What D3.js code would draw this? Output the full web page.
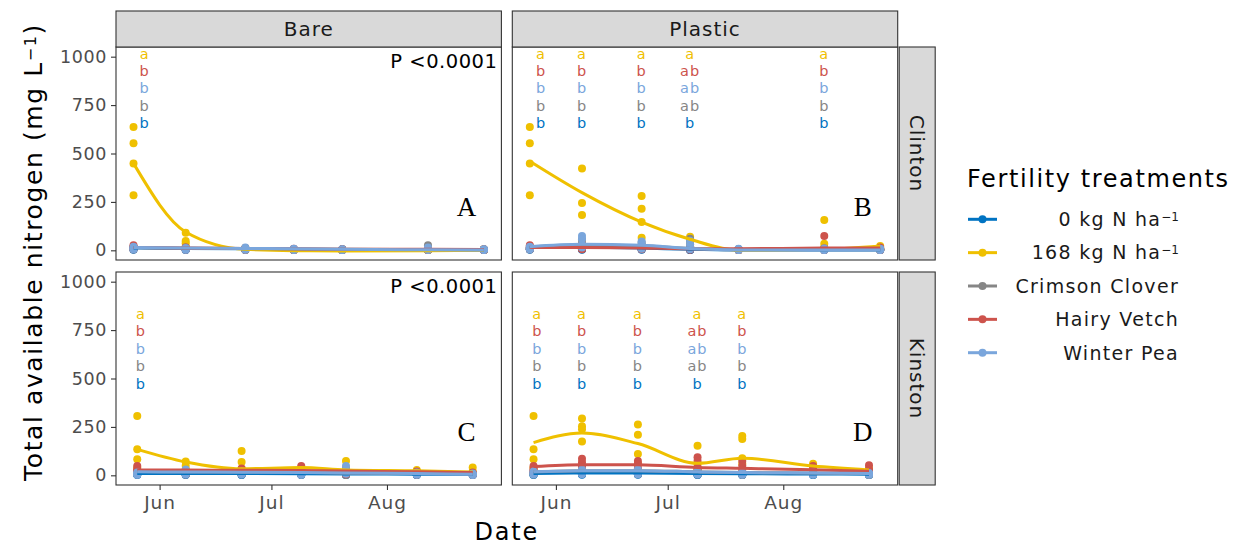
<!DOCTYPE html>
<html>
<head>
<meta charset="utf-8">
<script src="https://cdn.jsdelivr.net/npm/d3@7.9.0/dist/d3.min.js"></script>
<style>
  body { margin: 0; background: #fff; }
  text { font-family: "DejaVu Sans", sans-serif; }
</style>
</head>
<body>
<script>
// treatments, in legend order
const treatments = ["0 kg N ha", "168 kg N ha", "Crimson Clover", "Hairy Vetch", "Winter Pea"];
const supers = ["−1", "−1", "", "", ""];
const colors = ["#0073C2", "#EFC000", "#868686", "#CD534C", "#7AA6DC"];
const covers = ["Bare", "Plastic"];
const sites = ["Clinton", "Kinston"];
const tags = [["A", "B"], ["C", "D"]];
const yTicks = [0, 250, 500, 750, 1000];
const xTicks = ["2019-06-01", "2019-07-01", "2019-08-01"];

const clintonDates = ["2019-05-25", "2019-06-08", "2019-06-24", "2019-07-07", "2019-07-20", "2019-08-12", "2019-08-27"];
const kinstonDates = ["2019-05-26", "2019-06-08", "2019-06-23", "2019-07-09", "2019-07-21", "2019-08-09", "2019-08-24"];

// observations: one row per treatment, one cell per date, 4 reps each
const obsClintonBare = [
  [[12,8,5,3],[10,6,4,2],[8,5,3,2],[6,4,2,1],[5,3,2,1],[6,4,2,1],[4,3,2,1]],
  [[637,553,449,284],[91,48,36,18],[12,8,5,3],[6,4,2,1],[4,3,2,1],[8,4,2,1],[5,3,2,1]],
  [[20,14,10,6],[14,10,6,4],[10,7,5,3],[6,4,3,2],[5,3,2,1],[26,10,5,3],[5,3,2,1]],
  [[26,16,10,6],[15,10,6,4],[12,8,5,3],[8,5,3,2],[6,4,2,1],[8,5,3,2],[5,3,2,1]],
  [[18,12,8,5],[12,8,5,3],[14,9,6,3],[8,5,3,2],[6,4,2,1],[14,8,4,2],[6,4,2,1]]
];
const obsClintonPlastic = [
  [[12,8,5,3],[14,8,5,3],[12,8,5,3],[4,3,2,1],[4,3,2,1],[4,3,2,1],[4,3,2,1]],
  [[637,553,449,284],[422,244,182,50],[281,215,146,65],[70,55,30,20],[5,3,2,1],[157,34,15,5],[22,10,5,3]],
  [[20,14,10,6],[55,30,15,8],[40,25,15,8],[60,43,20,10],[5,3,2,1],[10,5,3,2],[6,4,2,1]],
  [[26,16,10,6],[30,20,10,5],[25,15,10,5],[20,10,5,3],[5,3,2,1],[74,10,5,2],[15,8,4,2]],
  [[18,12,8,5],[74,57,30,15],[45,30,15,8],[50,30,15,5],[8,5,3,2],[10,6,3,2],[8,5,3,2]]
];
const obsKinstonBare = [
  [[10,6,4,2],[10,6,4,2],[8,5,3,2],[8,5,3,2],[6,4,2,1],[6,4,2,1],[6,4,2,1]],
  [[306,134,83,40],[72,50,30,20],[126,69,34,15],[40,30,20,10],[74,40,25,10],[28,20,12,6],[40,20,12,6]],
  [[20,12,8,4],[20,12,8,4],[25,15,8,4],[15,10,6,3],[10,6,4,2],[15,10,6,3],[10,6,4,2]],
  [[48,31,25,15],[25,18,10,5],[35,25,15,8],[48,30,20,10],[30,20,10,5],[20,12,8,4],[15,10,6,3]],
  [[15,10,6,3],[30,15,8,4],[20,12,8,4],[15,10,6,3],[48,30,15,8],[15,10,6,3],[10,6,4,2]]
];
const obsKinstonPlastic = [
  [[10,6,4,2],[12,8,5,3],[14,8,5,3],[8,5,3,2],[6,4,2,1],[6,4,2,1],[6,4,2,1]],
  [[306,134,83,40],[294,253,238,175],[263,210,110,60],[153,60,40,30],[203,188,88,60],[60,45,35,25],[35,25,15,10]],
  [[25,15,8,4],[40,25,15,8],[30,20,12,6],[20,12,8,4],[10,6,4,2],[20,12,8,4],[10,6,4,2]],
  [[48,35,25,15],[86,66,40,20],[74,57,35,15],[93,74,40,30],[74,50,30,15],[48,30,20,10],[52,30,20,10]],
  [[20,12,8,4],[30,20,12,6],[30,20,12,6],[20,12,8,4],[15,10,6,3],[15,10,6,3],[12,8,5,3]]
];

// smoothed fits read at the sample dates
const fitClintonBare = [
  [12,10,8,6,4,3,2],
  [449,95,5,-2,-3,-2,0],
  [14,11,9,7,5,4,3],
  [15,12,10,8,6,5,4],
  [14,12,10,8,5,3,2]
];
const fitClintonPlastic = [
  [14,16,12,5,2,2,2],
  [460,298,146,57,0,5,22],
  [18,28,24,10,3,3,3],
  [15,14,12,8,8,12,12],
  [19,31,26,9,2,2,2]
];
const fitKinstonBare = [
  [10,10,9,8,7,6,5],
  [134,69,34,40,28,23,17],
  [20,18,17,15,12,10,8],
  [28,27,26,25,22,18,14],
  [18,17,16,15,12,9,6]
];
const fitKinstonPlastic = [
  [10,12,12,10,8,7,6],
  [169,218,164,62,88,48,28],
  [18,24,24,18,14,12,10],
  [45,55,54,40,36,29,21],
  [19,24,24,18,14,12,10]
];

// mean separation letters, top to bottom: 168, HV, WP, CC, 0 kg
const letterOrder = [1, 3, 4, 2, 0];
const letterYClinton = [1017, 927, 837, 747, 657];
const letterYKinston = [835, 745, 655, 565, 475];
const letterDatesClintonBare = ["2019-05-28"];
const lettersClintonBare = [["a"], ["b"], ["b"], ["b"], ["b"]];
const letterDatesClintonPlastic = ["2019-05-28", "2019-06-08", "2019-06-24", "2019-07-07", "2019-08-12"];
const lettersClintonPlastic = [
  ["a","a","a","a","a"], ["b","b","b","ab","b"], ["b","b","b","ab","b"], ["b","b","b","ab","b"], ["b","b","b","b","b"]
];
const letterDatesKinstonBare = ["2019-05-27"];
const lettersKinstonBare = [["a"], ["b"], ["b"], ["b"], ["b"]];
const letterDatesKinstonPlastic = ["2019-05-27", "2019-06-08", "2019-06-23", "2019-07-09", "2019-07-21"];
const lettersKinstonPlastic = [
  ["a","a","a","a","a"], ["b","b","b","ab","b"], ["b","b","b","ab","b"], ["b","b","b","ab","b"], ["b","b","b","b","b"]
];

const parse = d3.timeParse("%Y-%m-%d");

const panels = [
  { row: 0, col: 0, dates: clintonDates, obs: obsClintonBare, fit: fitClintonBare,
    lDates: letterDatesClintonBare, letters: lettersClintonBare, lY: letterYClinton, p: true },
  { row: 0, col: 1, dates: clintonDates, obs: obsClintonPlastic, fit: fitClintonPlastic,
    lDates: letterDatesClintonPlastic, letters: lettersClintonPlastic, lY: letterYClinton, p: false },
  { row: 1, col: 0, dates: kinstonDates, obs: obsKinstonBare, fit: fitKinstonBare,
    lDates: letterDatesKinstonBare, letters: lettersKinstonBare, lY: letterYKinston, p: true },
  { row: 1, col: 1, dates: kinstonDates, obs: obsKinstonPlastic, fit: fitKinstonPlastic,
    lDates: letterDatesKinstonPlastic, letters: lettersKinstonPlastic, lY: letterYKinston, p: false }
];

const W = 1241, H = 546;
const panelLeft = [116, 512.3];
const panelTop = [47, 272];
const pw = 385.4, ph = 213;
const stripH = 36, stripW = 36;

const svg = d3.select("body").append("svg")
  .attr("width", W).attr("height", H);

svg.append("rect").attr("width", W).attr("height", H).attr("fill", "#fff");

const allDates = clintonDates.concat(kinstonDates).map(parse);
const [d0, d1] = d3.extent(allDates);
const pad = (d1 - d0) * 0.05;
const x = d3.scaleTime().domain([new Date(+d0 - pad), new Date(+d1 + pad)]).range([0, pw]);
const y = d3.scaleLinear().domain([-50, 1050]).range([ph, 0]);

const line = d3.line()
  .x(d => x(d.date))
  .y(d => y(d.v))
  .curve(d3.curveMonotoneX);

panels.forEach(P => {
  const g = svg.append("g")
    .attr("transform", `translate(${panelLeft[P.col]},${panelTop[P.row]})`);
  const dates = P.dates.map(parse);

  g.append("rect").attr("width", pw).attr("height", ph).attr("fill", "#fff");

  // points
  P.obs.forEach((row, ti) => {
    const pts = row.flatMap((reps, di) => reps.map(v => ({ date: dates[di], v })));
    g.append("g").selectAll("circle").data(pts).join("circle")
      .attr("cx", d => x(d.date))
      .attr("cy", d => y(d.v))
      .attr("r", 4)
      .attr("fill", colors[ti]);
  });

  // smooth lines
  P.fit.forEach((row, ti) => {
    g.append("path")
      .datum(row.map((v, di) => ({ date: dates[di], v })))
      .attr("fill", "none")
      .attr("stroke", colors[ti])
      .attr("stroke-width", 3)
      .attr("d", line);
  });

  // letters
  P.letters.forEach((row, li) => {
    row.forEach((s, di) => {
      g.append("text")
        .attr("x", x(parse(P.lDates[di])))
        .attr("y", y(P.lY[li]))
        .attr("dy", "0.36em")
        .attr("text-anchor", "middle")
        .attr("font-size", 14.5)
        .attr("letter-spacing", 1)
        .attr("fill", colors[letterOrder[li]])
        .text(s);
    });
  });

  if (P.p) {
    g.append("text")
      .attr("x", pw - 4).attr("y", 14)
      .attr("dy", "0.36em")
      .attr("text-anchor", "end")
      .attr("font-size", 19.5)
      .attr("letter-spacing", 0.5)
      .attr("fill", "#000")
      .text("P <0.0001");
  }

  g.append("text")
    .attr("x", pw - 35).attr("y", 160)
    .attr("dy", "0.35em")
    .attr("text-anchor", "middle")
    .style("font-family", "'Liberation Serif', serif")
    .attr("font-size", 27)
    .attr("fill", "#000")
    .text(tags[P.row][P.col]);

  g.append("rect").attr("width", pw).attr("height", ph)
    .attr("fill", "none").attr("stroke", "#333333").attr("stroke-width", 1.1);

  // axes
  if (P.col === 0) {
    const ya = g.append("g").call(d3.axisLeft(y).tickValues(yTicks).tickFormat(d3.format("d")).tickSize(5).tickPadding(4));
    ya.select(".domain").remove();
    ya.selectAll("line").attr("stroke", "#333333").attr("stroke-width", 1.1);
    ya.selectAll("text").attr("fill", "#4D4D4D").attr("font-size", 17.5)
      .attr("letter-spacing", 0.6)
      .style("font-family", "'DejaVu Sans', sans-serif");
  }
  if (P.row === 1) {
    const xa = g.append("g").attr("transform", `translate(0,${ph})`)
      .call(d3.axisBottom(x).tickValues(xTicks.map(parse)).tickFormat(d3.timeFormat("%b")).tickSize(5).tickPadding(6));
    xa.select(".domain").remove();
    xa.selectAll("line").attr("stroke", "#333333").attr("stroke-width", 1.1);
    xa.selectAll("text").attr("fill", "#4D4D4D").attr("font-size", 18.5)
      .attr("letter-spacing", 1)
      .style("font-family", "'DejaVu Sans', sans-serif");
  }
});

// top strips
covers.forEach((c, i) => {
  const g = svg.append("g").attr("transform", `translate(${panelLeft[i]},${panelTop[0] - stripH})`);
  g.append("rect").attr("width", pw).attr("height", stripH)
    .attr("fill", "#D9D9D9").attr("stroke", "#333333").attr("stroke-width", 1.1);
  g.append("text").attr("x", pw / 2).attr("y", stripH / 2).attr("dy", "0.36em")
    .attr("text-anchor", "middle").attr("font-size", 20).attr("letter-spacing", 1)
    .attr("fill", "#1A1A1A").text(c);
});

// right strips
sites.forEach((s, i) => {
  const xs = panelLeft[1] + pw + 1.5;
  const g = svg.append("g").attr("transform", `translate(${xs},${panelTop[i]})`);
  g.append("rect").attr("width", stripW).attr("height", ph)
    .attr("fill", "#D9D9D9").attr("stroke", "#333333").attr("stroke-width", 1.1);
  g.append("text")
    .attr("transform", `translate(${stripW / 2},${ph / 2}) rotate(90)`)
    .attr("dy", "0.36em")
    .attr("text-anchor", "middle").attr("font-size", 20).attr("letter-spacing", 1)
    .attr("fill", "#1A1A1A").text(s);
});

// axis titles
const yt = svg.append("text")
  .attr("transform", `translate(33,252) rotate(-90)`)
  .attr("dy", "0.36em")
  .attr("text-anchor", "middle")
  .attr("font-size", 25)
  .attr("letter-spacing", 1.6)
  .attr("fill", "#000");
yt.append("tspan").text("Total available nitrogen (mg L");
yt.append("tspan").attr("font-size", 16).attr("baseline-shift", "40%").text("−1");
yt.append("tspan").text(")");

svg.append("text")
  .attr("x", (panelLeft[0] + panelLeft[1] + pw) / 2).attr("y", 531)
  .attr("dy", "0.36em").attr("text-anchor", "middle")
  .attr("font-size", 24).attr("letter-spacing", 1.8)
  .attr("fill", "#000").text("Date");

// legend
const lg = svg.append("g").attr("transform", "translate(967,0)");
lg.append("text").attr("x", 0).attr("y", 178).attr("dy", "0.36em")
  .attr("font-size", 24).attr("letter-spacing", 1.6)
  .attr("fill", "#000").text("Fertility treatments");

const rowY = d3.scalePoint().domain(treatments).range([219.3, 352.7]);
treatments.forEach((t, i) => {
  const gy = rowY(t);
  lg.append("line").attr("x1", 1).attr("x2", 30).attr("y1", gy).attr("y2", gy)
    .attr("stroke", colors[i]).attr("stroke-width", 3);
  lg.append("circle").attr("cx", 15.5).attr("cy", gy).attr("r", 4).attr("fill", colors[i]);
  const tx = lg.append("text").attr("x", 212).attr("y", gy).attr("dy", "0.36em")
    .attr("text-anchor", "end").attr("font-size", 19).attr("letter-spacing", 1.3)
    .attr("fill", "#1A1A1A");
  tx.append("tspan").text(t);
  if (supers[i]) tx.append("tspan").attr("font-size", 12).attr("letter-spacing", 0)
    .attr("baseline-shift", "45%").text(supers[i]);
});
</script>
</body>
</html>
